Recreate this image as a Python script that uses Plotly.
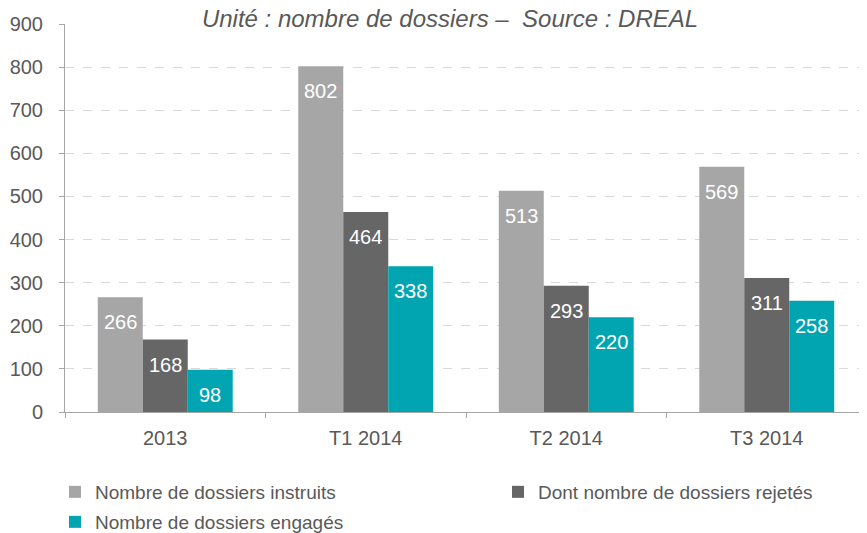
import plotly.graph_objects as go

categories = ["2013", "T1 2014", "T2 2014", "T3 2014"]
instruits = [266, 802, 513, 569]
rejetes = [168, 464, 293, 311]
engages = [98, 338, 220, 258]
series_names = ["Nombre de dossiers instruits", "Dont nombre de dossiers rejetés", "Nombre de dossiers engagés"]
colors = ["#A6A6A6", "#666666", "#00A5B1"]
y_ticks = [0, 100, 200, 300, 400, 500, 600, 700, 800, 900]

FONT = "Liberation Sans"
TXT = "#595959"

# page body has an 8px margin: the figure starts at (8, 8)
W, H = 859, 525

fig = go.Figure()
all_series = [instruits, rejetes, engages]
legends = ["legend", "legend2", "legend3"]
for name, vals, col, lg in zip(series_names, all_series, colors, legends):
    fig.add_trace(go.Bar(x=categories, y=vals, name=name, marker=dict(color=col, line=dict(width=0)),
                         hoverinfo="skip", legend=lg))

shifts = [-45, 0, 45]
for vals, sh in zip(all_series, shifts):
    for i, v in enumerate(vals):
        fig.add_annotation(x=i, y=v, text=str(v), showarrow=False, xshift=sh, yshift=-25,
                           font=dict(family=FONT, size=20, color="white"))

leg_common = dict(orientation="v", xref="container", yref="container", yanchor="top", xanchor="left",
                  font=dict(family=FONT, size=19, color=TXT), itemclick=False, bgcolor="rgba(0,0,0,0)")

fig.update_layout(
    width=W, height=H,
    margin=dict(l=57, r=0, t=16, b=121, autoexpand=False),
    paper_bgcolor="white", plot_bgcolor="white",
    barmode="group", bargap=0.327, bargroupgap=0,
    font=dict(family=FONT, size=20, color=TXT),
    title=dict(text="<i>Unité : nombre de dossiers –&nbsp; Source : DREAL</i>", x=442 / W, xref="container",
               xanchor="center", yref="container", y=1 - 11 / H, yanchor="middle",
               font=dict(family=FONT, size=24, color=TXT)),
    legend=dict(x=47 / W, y=1 - 465 / H, **leg_common),
    legend2=dict(x=490 / W, y=1 - 465 / H, **leg_common),
    legend3=dict(x=47 / W, y=1 - 495 / H, **leg_common),
    showlegend=True,
)
fig.update_xaxes(type="category", range=[-0.5, 3.5], automargin=False, showline=True, linecolor="#A6A6A6",
                 linewidth=1, ticks="outside", tickson="boundaries", tickangle=0, ticklabelstandoff=8,
                 ticklen=5, tickcolor="#A6A6A6", tickfont=dict(family=FONT, size=20, color=TXT))
fig.update_yaxes(range=[0, 900], tickvals=y_ticks, automargin=False, showline=True, linecolor="#A6A6A6",
                 linewidth=1, ticks="outside", ticklen=5, tickcolor="#A6A6A6", showgrid=True,
                 ticklabelstandoff=12,
                 gridcolor="#D9D9D9", griddash="dash", gridwidth=1, zeroline=False,
                 tickfont=dict(family=FONT, size=20, color=TXT))

fig.write_html("out.html")
